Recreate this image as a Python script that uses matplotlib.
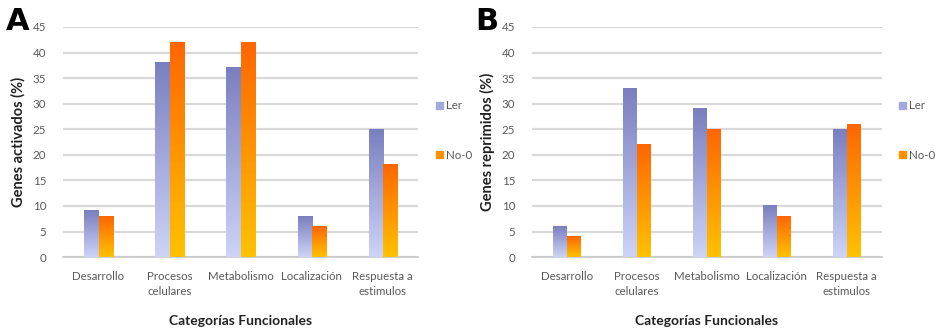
import numpy as np
import matplotlib
matplotlib.use("Agg")
import matplotlib.pyplot as plt
from matplotlib.colors import LinearSegmentedColormap
from matplotlib.patches import Patch

categorias = ["Desarrollo", "Procesos\ncelulares", "Metabolismo", "Localización", "Respuesta a\nestimulos"]
series = ["Ler", "No-0"]

activados_ler = [9, 38, 37, 8, 25]
activados_no0 = [8, 42, 42, 6, 18]
reprimidos_ler = [6, 33, 29, 10, 25]
reprimidos_no0 = [4, 22, 25, 8, 26]

plt.rcParams["font.family"] = ["Lato", "DejaVu Sans"]

cmap_ler = LinearSegmentedColormap.from_list("ler", ["#cdd4f7", "#7a7fbf"])
cmap_no0 = LinearSegmentedColormap.from_list("no0", ["#ffc200", "#ff6600"])
grad = np.linspace(0, 1, 256).reshape(-1, 1)

fig = plt.figure(figsize=(9.35, 3.33), dpi=100)


def panel(rect, ler, no0, ylabel, letra, letra_x):
    ax = fig.add_axes(rect)
    x = np.arange(len(categorias))
    w = 0.2
    b1 = ax.bar(x - w, ler, w, align="edge", color="none", zorder=3)
    b2 = ax.bar(x, no0, w, align="edge", color="none", zorder=3)
    # degradado vertical dentro de cada barra
    for bars, cm in [(b1, cmap_ler), (b2, cmap_no0)]:
        for p in bars:
            x0, y0 = p.get_x(), p.get_y()
            ax.imshow(grad, cmap=cm, origin="lower", aspect="auto", zorder=3,
                      extent=(x0, x0 + p.get_width(), y0, y0 + p.get_height()))
    ax.set_xlim(-0.5, len(categorias) - 0.5)
    ax.set_ylim(0, 45)
    ax.set_yticks(range(0, 46, 5))
    ax.set_xticks(x)
    ax.set_xticklabels(categorias, fontsize=8.3, color="#595959", linespacing=1.45)
    ax.tick_params(axis="y", labelsize=8.3, labelcolor="#595959", length=0, pad=12)
    ax.tick_params(axis="x", length=0, pad=10)
    ax.yaxis.grid(True, color="#d9d9d9", lw=1.6, zorder=0)
    ax.set_axisbelow(True)
    for s in ["top", "right", "left"]:
        ax.spines[s].set_visible(False)
    ax.spines["bottom"].set_color("#c8c8c8")
    ax.spines["bottom"].set_linewidth(1.2)
    ax.set_ylabel(ylabel, fontsize=10.5, fontweight="bold", color="#222222", labelpad=5)
    ax.set_xlabel("Categorías Funcionales", fontsize=10, fontweight="bold", color="#222222", labelpad=13)
    handles = [Patch(color="#a3a9dc"), Patch(color="#ff9000")]
    leg = ax.legend(handles, series, loc="center left", bbox_to_anchor=(1.02, 0.55),
                    frameon=False, fontsize=8.3, labelspacing=3.3, handlelength=0.6,
                    handleheight=0.6, handletextpad=0.3)
    for t in leg.get_texts():
        t.set_color("#595959")
    fig.text(letra_x, 0.935, letra, fontsize=22, fontweight="bold", ha="left", va="center",
             family="DejaVu Sans")
    return ax


panel([0.0674, 0.228, 0.38, 0.691], activados_ler, activados_no0, "Genes activados (%)", "A", 0.006)
panel([0.569, 0.228, 0.374, 0.691], reprimidos_ler, reprimidos_no0, "Genes reprimidos (%)", "B", 0.508)

fig.savefig("out.png", dpi=100)
